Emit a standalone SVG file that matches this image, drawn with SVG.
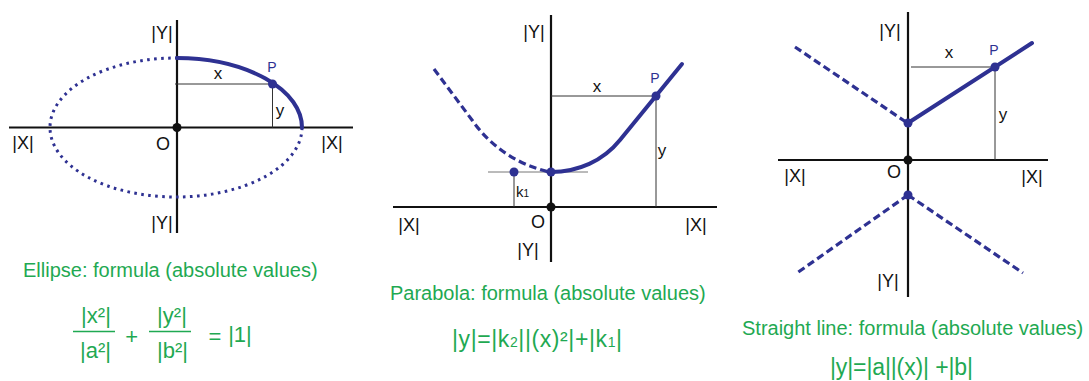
<svg xmlns="http://www.w3.org/2000/svg" width="1089" height="381" viewBox="0 0 1089 381">
<style>
text{font-family:"Liberation Sans",Arial,sans-serif;}
.ax{stroke:#111;stroke-width:2.2;fill:none;}
.thin{stroke:#333;stroke-width:1;fill:none;}
.solid{stroke:#2e3192;stroke-width:4;fill:none;stroke-linecap:round;}
.dash{stroke:#2e3192;stroke-width:3.2;fill:none;stroke-dasharray:7.5 4;}
.dot{stroke:#2e3192;stroke-width:3;fill:none;stroke-dasharray:2.6 4.4;}
.bd{fill:#2e3192;}
.od{fill:#111;}
.lab{font-size:18px;fill:#111;text-anchor:middle;}
.sm{font-size:17px;fill:#111;text-anchor:middle;}
.p{font-size:14px;fill:#2e3192;text-anchor:middle;}
.g{font-size:20px;fill:#1fa952;}
.f{font-size:22px;fill:#1fa952;text-anchor:middle;}
.fl{stroke:#1fa952;stroke-width:1.3;}
</style>
<rect width="1089" height="381" fill="#fff"/>

<g id="ellipse">
  <g id="ellipse-axes">
    <line class="ax" x1="9" y1="127.5" x2="353" y2="127.5"/>
    <line class="ax" x1="177" y1="20" x2="177" y2="233"/>
  </g>
  <g id="ellipse-curves">
    <path class="dot" d="M302,127.5 A126,69.5 0 1 1 176,58"/>
    <path class="solid" d="M177,58 A126,69.5 0 0 1 302,127.5"/>
    <line class="thin" x1="175" y1="84" x2="272.5" y2="84"/>
    <line class="thin" x1="272.5" y1="84" x2="272.5" y2="127.5"/>
  </g>
  <circle class="od" cx="177" cy="127.5" r="4.5"/>
  <circle class="bd" cx="272.5" cy="84" r="4.5"/>
  <text class="lab" x="162" y="39">|Y|</text>
  <text class="lab" x="162" y="229">|Y|</text>
  <text class="lab" x="23" y="149">|X|</text>
  <text class="lab" x="332" y="149">|X|</text>
  <text class="lab" x="163" y="150">O</text>
  <text class="sm" x="218" y="79">x</text>
  <text class="sm" x="280" y="116">y</text>
  <text class="p" x="272" y="72">P</text>
  <text class="g" x="23" y="277">Ellipse: formula (absolute values)</text>
  <g id="ellipse-formula">
    <text class="f" x="96" y="323">|x²|</text>
    <line class="fl" x1="73" y1="331.5" x2="115" y2="331.5"/>
    <text class="f" x="95.5" y="358">|a²|</text>
    <text class="f" x="131.7" y="344">+</text>
    <text class="f" x="172" y="323">|y²|</text>
    <line class="fl" x1="149" y1="331.5" x2="191" y2="331.5"/>
    <text class="f" x="172.5" y="358">|b²|</text>
    <text class="f" x="215" y="344">=</text>
    <text class="f" x="240" y="342">|1|</text>
  </g>
</g>

<g id="parabola">
  <g id="parabola-axes">
    <line class="ax" x1="393" y1="207" x2="717" y2="207"/>
    <line class="ax" x1="551" y1="15" x2="551" y2="262"/>
  </g>
  <g id="parabola-curves">
    <line class="thin" x1="488" y1="172" x2="588" y2="172" style="stroke:#777"/>
    <line class="thin" x1="514" y1="172" x2="514" y2="207"/>
    <line class="thin" x1="551" y1="96" x2="656" y2="96"/>
    <line class="thin" x1="656" y1="96" x2="656" y2="207"/>
    <path class="dash" d="M434,69 L472,120 Q500,160 549,172"/>
    <path class="solid" d="M551,172 C578,172 603,161 620,140 L682,64"/>
  </g>
  <circle class="od" cx="551" cy="207" r="4.5"/>
  <circle class="bd" cx="551" cy="172" r="4.5"/>
  <circle class="bd" cx="514" cy="172" r="4.5"/>
  <circle class="bd" cx="656" cy="96" r="4.5"/>
  <text class="lab" x="534" y="38">|Y|</text>
  <text class="lab" x="528" y="256">|Y|</text>
  <text class="lab" x="409" y="231">|X|</text>
  <text class="lab" x="696" y="231">|X|</text>
  <text class="lab" x="538" y="228">O</text>
  <text class="sm" x="597" y="92">x</text>
  <text class="sm" x="662" y="156">y</text>
  <text class="p" x="655" y="83">P</text>
  <text x="516" y="197" style="font-size:15px;fill:#111">k<tspan style="font-size:10px">1</tspan></text>
  <text class="g" x="390" y="300">Parabola: formula (absolute values)</text>
  <text x="452" y="347" textLength="170" lengthAdjust="spacing" style="font-size:23px;fill:#1fa952">|y|=|k<tspan style="font-size:14px">2</tspan>||(x)²|+|k<tspan style="font-size:14px">1</tspan>|</text>
</g>

<g id="straight-line">
  <g id="line-axes">
    <line class="ax" x1="778" y1="160" x2="1048" y2="160"/>
    <line class="ax" x1="908" y1="12" x2="908" y2="297"/>
  </g>
  <g id="line-curves">
    <line class="thin" x1="911" y1="67" x2="995" y2="67"/>
    <line class="thin" x1="995" y1="67" x2="995" y2="160"/>
    <line class="dash" x1="906" y1="122" x2="795" y2="47"/>
    <line class="dash" x1="908" y1="195" x2="797" y2="273"/>
    <line class="dash" x1="908" y1="195" x2="1023" y2="273"/>
    <line class="solid" x1="908" y1="123" x2="1032" y2="43"/>
  </g>
  <circle class="od" cx="908" cy="160" r="4.5"/>
  <circle class="bd" cx="908" cy="123" r="4.5"/>
  <circle class="bd" cx="908" cy="195" r="4.5"/>
  <circle class="bd" cx="995" cy="67" r="4.5"/>
  <text class="lab" x="890" y="37">|Y|</text>
  <text class="lab" x="888" y="287">|Y|</text>
  <text class="lab" x="795" y="182">|X|</text>
  <text class="lab" x="1032" y="183">|X|</text>
  <text class="lab" x="894" y="178">O</text>
  <text class="sm" x="949" y="58">x</text>
  <text class="sm" x="1003" y="120">y</text>
  <text class="p" x="994" y="55">P</text>
  <text class="g" x="742" y="335">Straight line: formula (absolute values)</text>
  <text x="830" y="375" textLength="143" lengthAdjust="spacing" style="font-size:23px;fill:#1fa952">|y|=|a||(x)| +|b|</text>
</g>
</svg>
